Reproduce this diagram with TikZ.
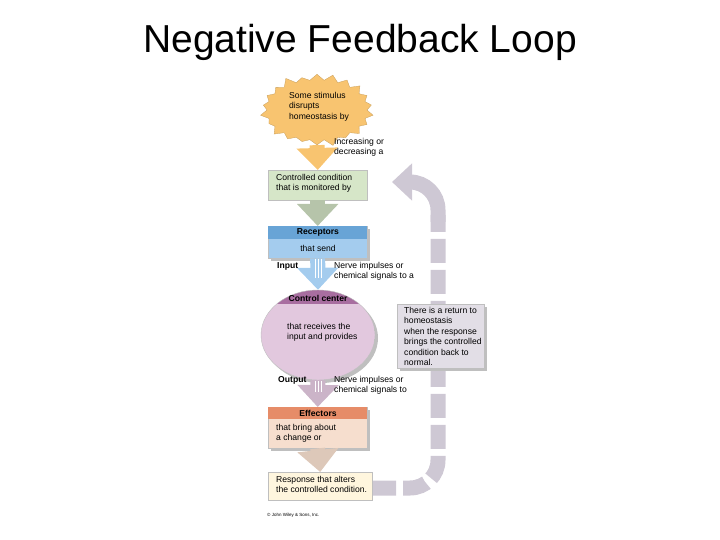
\documentclass[tikz,border=0pt]{standalone}
\usepackage{fontspec}
\setmainfont{Liberation Sans}
\usetikzlibrary{shapes.symbols,shapes.geometric,arrows.meta,positioning}
\definecolor{stim}{RGB}{248,196,112}
\definecolor{cond}{RGB}{214,230,200}
\definecolor{rechead}{RGB}{104,164,214}
\definecolor{recbody}{RGB}{164,204,238}
\definecolor{ctrl}{RGB}{226,200,222}
\definecolor{ctrlhead}{RGB}{168,110,160}
\definecolor{effhead}{RGB}{230,140,104}
\definecolor{effbody}{RGB}{246,222,206}
\definecolor{resp}{RGB}{255,246,222}
\definecolor{loopgray}{RGB}{206,200,212}
\definecolor{note}{RGB}{226,222,230}
\tikzset{
  txt/.style={font=\fontsize{8.6}{10.4}\selectfont,align=left,inner sep=0pt},
  bold/.style={txt,font=\fontsize{8.6}{10.4}\selectfont\bfseries},
  box/.style={draw=black!25,line width=0.4pt,minimum width=99pt,anchor=north west,inner sep=0pt},
  shade/.style={fill=black!25},
  flow/.style={line width=15pt,-{Triangle[width=40pt,length=22pt]}},
}
\begin{document}
\begin{tikzpicture}[x=1pt,y=-1pt]
\useasboundingbox (0,0) rectangle (720,540);

\node[font=\fontsize{39}{42}\selectfont] (title) at (360,42) {Negative Feedback Loop};

% feedback loop (behind the note)
\coordinate (back) at (392,182);
\draw[loopgray,line width=15pt,rounded corners=28pt,dash pattern=on 24pt off 7pt]
  (372,488) -| (438,215);
\draw[loopgray,line width=15pt,rounded corners=28pt,-{Triangle[width=36pt,length=20pt]}]
  (438,222) |- (back);

% boxes
\node[starburst,starburst points=22,starburst point height=8pt,fill=stim,draw=stim!80!black,
      line width=0.3pt,minimum width=116pt,minimum height=76pt] (stim) at (317,110) {};
\node[txt,anchor=north west] at (289,92) {Some stimulus\\disrupts\\homeostasis by};

\node[box,fill=cond,minimum height=30pt] (cond) at (268,170) {};
\node[txt,anchor=north west] at (276,174) {Controlled condition\\that is monitored by};

\fill[shade] (271,229) rectangle (370,261);
\node[box,fill=recbody,minimum height=32pt] (rec) at (268,226) {};
\fill[rechead] (268,226) rectangle (367,239);
\node[bold] at (318,232.5) {Receptors};
\node[txt] at (318,248.5) {that send};

\fill[shade] (321,338) ellipse (57 and 45);
\begin{scope}
  \clip (318,335) ellipse (57 and 45);
  \fill[ctrl] (261,290) rectangle (375,380);
  \fill[ctrlhead] (261,290) rectangle (375,304);
\end{scope}
\node[ellipse,draw=black!25,minimum width=114pt,minimum height=90pt] (ctrl) at (318,335) {};
\node[bold] at (318,298) {Control center};
\node[txt,anchor=north west] at (287,323) {that receives the\\input and provides};

\fill[shade] (271,410) rectangle (370,451);
\node[box,fill=effbody,minimum height=41pt] (eff) at (268,407) {};
\fill[effhead] (268,407) rectangle (367,419);
\node[bold] at (318,413) {Effectors};
\node[txt,anchor=north west] at (276,424) {that bring about\\a change or};

\node[box,fill=resp,minimum width=104pt,minimum height=28pt] (resp) at (268,472) {};
\node[txt,anchor=north west] at (276,476) {Response that alters\\the controlled condition.};

\fill[shade] (400,307) rectangle (487,371);
\node[box,fill=note,minimum width=87pt,minimum height=64pt] (note) at (397,304) {};
\node[txt,anchor=north west] at (404,307) {There is a return to\\homeostasis\\when the response\\brings the controlled\\condition back to\\normal.};

% arrows
\draw[flow,stim] (stim.south) -- (cond.north);
\draw[flow,cond!85!black] (cond.south) -- (rec.north);
\draw[flow,recbody] (rec.south) -- (ctrl.north);
\draw[flow,ctrl!90!black] (ctrl.south) -- (eff.north);
\draw[flow,effbody!90!black] (eff.south) -- (resp.north);
\foreach \dx in {-3,0,3}
  \draw[white,line width=0.6pt] (318+\dx,259) -- (318+\dx,278);
\foreach \dx in {-3,0,3}
  \draw[white,line width=0.6pt] (318+\dx,381) -- (318+\dx,392);

% labels
\node[txt,anchor=north west] at (334,138) {Increasing or\\decreasing a};
\node[bold,anchor=north west] at (277,262) {Input};
\node[txt,anchor=north west] at (334,262) {Nerve impulses or\\chemical signals to a};
\node[bold,anchor=north west] at (278,376) {Output};
\node[txt,anchor=north west] at (334,376) {Nerve impulses or\\chemical signals to};
\node[txt,font=\fontsize{4.5}{5}\selectfont,anchor=north west] at (267,513) {\textcopyright\ John Wiley \& Sons, Inc.};
\end{tikzpicture}
\end{document}
